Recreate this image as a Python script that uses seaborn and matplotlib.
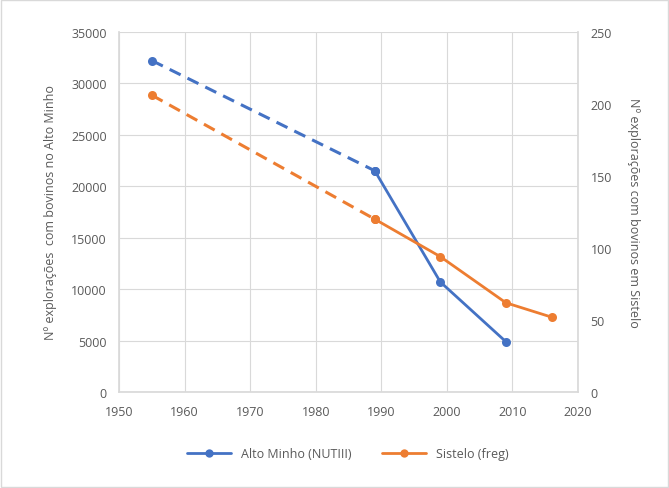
import matplotlib
matplotlib.use("Agg")
import matplotlib.pyplot as plt
import seaborn as sns
import pandas as pd
from matplotlib.lines import Line2D
from matplotlib.patches import Rectangle

years_am = [1955, 1989, 1999, 2009]
alto_minho = [32200, 21500, 10700, 4900]
years_si = [1955, 1989, 1999, 2009, 2016]
sistelo = [206, 120, 94, 62, 52]
label_am = "Alto Minho (NUTIII)"
label_si = "Sistelo (freg)"
ylabel_left = "Nº explorações  com bovinos no Alto Minho"
ylabel_right = "Nº explorações com bovinos em Sistelo"

blue = "#4472C4"
orange = "#ED7D31"
grey_txt = "#595959"
grid_c = "#D9D9D9"

sns.set_theme(style="whitegrid")
plt.rcParams["font.family"] = ["Open Sans", "DejaVu Sans"]

fig = plt.figure(figsize=(6.69, 4.89), dpi=100)
ax = fig.add_axes([0.178, 0.196, 0.686, 0.737])
ax2 = ax.twinx()

df_am = pd.DataFrame({"year": years_am, "v": alto_minho})
df_si = pd.DataFrame({"year": years_si, "v": sistelo})

# dashed first segments
sns.lineplot(data=df_am.iloc[:2], x="year", y="v", ax=ax, color=blue, lw=2.2,
             linestyle=(0, (4, 2.5)), marker="o", markersize=6.5, markeredgewidth=0)
sns.lineplot(data=df_am.iloc[1:], x="year", y="v", ax=ax, color=blue, lw=2.0,
             marker="o", markersize=6.5, markeredgewidth=0)
sns.lineplot(data=df_si.iloc[:2], x="year", y="v", ax=ax2, color=orange, lw=2.2,
             linestyle=(0, (4, 2.5)), marker="o", markersize=6.5, markeredgewidth=0)
sns.lineplot(data=df_si.iloc[1:], x="year", y="v", ax=ax2, color=orange, lw=2.0,
             marker="o", markersize=6.5, markeredgewidth=0)

ax.set_xlim(1950, 2020)
ax.set_ylim(0, 35000)
ax2.set_ylim(0, 250)
ax.set_xticks(range(1950, 2021, 10))
ax.set_yticks(range(0, 35001, 5000))
ax2.set_yticks(range(0, 251, 50))
ax2.grid(False)
ax.grid(True, color=grid_c, lw=0.8)
ax.set_axisbelow(True)

for a in (ax, ax2):
    a.tick_params(colors=grey_txt, labelsize=9, length=0, pad=9)
    for s in a.spines.values():
        s.set_visible(False)
    a.set_xlabel("")
ax.spines["bottom"].set_visible(True)
ax.spines["bottom"].set_color(grid_c)
ax.spines["left"].set_visible(True)
ax.spines["left"].set_color(grid_c)
ax2.spines["right"].set_visible(True)
ax2.spines["right"].set_color(grid_c)

ax.set_ylabel(ylabel_left, color=grey_txt, fontsize=9, labelpad=10)
ax2.set_ylabel(ylabel_right, color=grey_txt, fontsize=9, rotation=270, labelpad=20)

handles = [Line2D([], [], color=blue, lw=2, marker="o", markersize=6, markeredgewidth=0),
           Line2D([], [], color=orange, lw=2, marker="o", markersize=6, markeredgewidth=0)]
fig.legend(handles, [label_am, label_si], loc="center", bbox_to_anchor=(0.52, 0.07),
           ncol=2, frameon=False, fontsize=9, labelcolor=grey_txt, handlelength=3.5,
           columnspacing=2.5)

fig.patches.append(Rectangle((0.002, 0.002), 0.996, 0.996, transform=fig.transFigure,
                             fill=False, edgecolor="#D9D9D9", lw=1))

fig.savefig("out.png", dpi=100, facecolor="white")
